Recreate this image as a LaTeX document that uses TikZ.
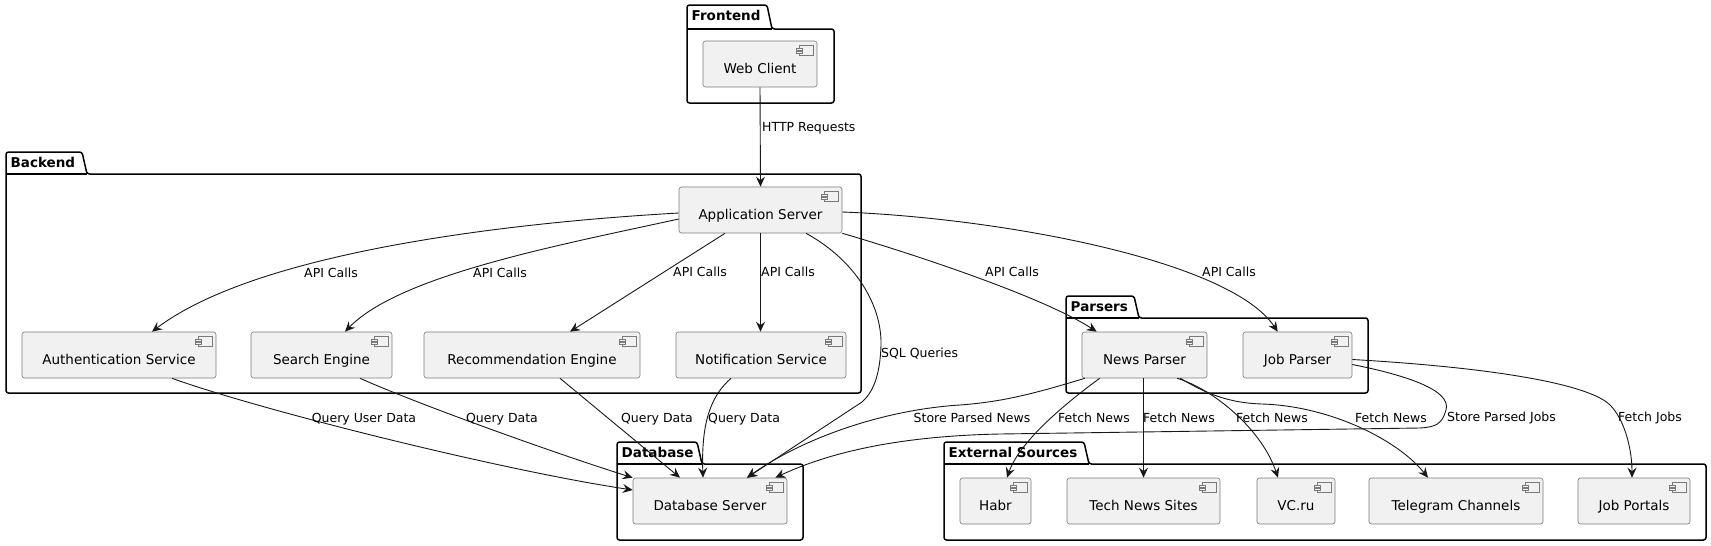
\documentclass[tikz,border=0pt]{standalone}
\usepackage{fontspec}
\setmainfont{DejaVu Sans}
\usetikzlibrary{arrows.meta}
\definecolor{boxfill}{HTML}{F1F1F1}
\definecolor{linec}{HTML}{181818}
\definecolor{boxline}{HTML}{7A7A7A}
\tikzset{
 comp/.style={draw=boxline, line width=0.6pt, fill=boxfill, rounded corners=2.5pt, inner sep=0pt,
   text height=32.5pt, text depth=13.5pt, minimum height=46pt, font=\fontsize{13.5}{16}\selectfont},
 pkgline/.style={draw=black, line width=1.5pt, rounded corners=2.5pt},
 pkgtitle/.style={font=\bfseries\fontsize{13.5}{16}\selectfont, anchor=base west, inner sep=0pt},
 lbl/.style={font=\fontsize{12.5}{15}\selectfont, inner sep=0pt},
 conn/.style={draw=linec, line width=0.9pt, -{Stealth[length=10pt,width=9pt,inset=3.5pt]}},
 icon/.style={draw=boxline, line width=0.6pt, fill=boxfill}
}
\newcommand\pkgdraw[8]{% id, title, left, tabtop, bodytop, right, bottom, tabright
  \draw[pkgline] (#3,#5) -- (#3,#4) -- (#8,#4) -- (#8+5,#5) -- (#6,#5) -- (#6,#7) -- (#3,#7) -- cycle;
  \draw[pkgline] (#3,#5) -- (#8+5,#5);
  \node[pkgtitle] (#1) at (#3+4.5,#4+15.5) {#2};
}
\begin{document}
\begin{tikzpicture}[x=1pt,y=-1pt]
\useasboundingbox (0,0) rectangle (1711,546);
% packages
\pkgdraw{pfront}{Frontend}{687}{5}{29}{834}{103}{767}
\pkgdraw{pback}{Backend}{6}{152}{174}{861}{393}{82}
\pkgdraw{ppars}{Parsers}{1066}{296}{318}{1368}{393}{1134}
\pkgdraw{pdb}{Database}{617}{442}{464}{803}{540}{697}
\pkgdraw{pext}{External Sources}{944}{442}{464}{1706}{540}{1084}
% components
\node[comp, minimum width=114pt] (web) at (760,64) {Web Client\hspace{10pt}};
\node[comp, minimum width=163pt] (app) at (760.5,210) {Application Server\hspace{10pt}};
\node[comp, minimum width=194pt] (auth) at (119,355) {Authentication Service\hspace{10pt}};
\node[comp, minimum width=141pt] (search) at (321.5,355) {Search Engine\hspace{10pt}};
\node[comp, minimum width=216pt] (rec) at (532,355) {Recommendation Engine\hspace{10pt}};
\node[comp, minimum width=170pt] (notif) at (761,355) {Notification Service\hspace{10pt}};
\node[comp, minimum width=125pt] (news) at (1144.5,355) {News Parser\hspace{10pt}};
\node[comp, minimum width=109pt] (job) at (1297.5,355) {Job Parser\hspace{10pt}};
\node[comp, minimum width=154pt] (db) at (710,501) {Database Server\hspace{10pt}};
\node[comp, minimum width=71pt] (habr) at (995.5,501) {Habr\hspace{10pt}};
\node[comp, minimum width=153pt] (tech) at (1143.5,501) {Tech News Sites\hspace{10pt}};
\node[comp, minimum width=78pt] (vc) at (1296,501) {VC.ru\hspace{10pt}};
\node[comp, minimum width=174pt] (tele) at (1456,501) {Telegram Channels\hspace{10pt}};
\node[comp, minimum width=112pt] (jobp) at (1634,501) {Job Portals\hspace{10pt}};
\foreach \n in {web,app,auth,search,rec,notif,news,job,db,habr,tech,vc,tele,jobp}{
  \draw[icon] ([xshift=-18pt,yshift=-5pt]\n.north east) rectangle ([xshift=-4pt,yshift=-15pt]\n.north east);
  \draw[icon] ([xshift=-21pt,yshift=-7.5pt]\n.north east) rectangle ([xshift=-15pt,yshift=-9.5pt]\n.north east);
  \draw[icon] ([xshift=-21pt,yshift=-10.5pt]\n.north east) rectangle ([xshift=-15pt,yshift=-12.5pt]\n.north east);
}
% connectors
\draw[conn] (web.south) -- (app.north);
\draw[conn] ([yshift=-3pt]app.west) .. controls (520,222) and (260,250) .. ([xshift=33pt]auth.north);
\draw[conn] ([yshift=-9pt]app.west) .. controls (560,245) and (400,275) .. ([xshift=23.5pt]search.north);
\draw[conn] ([xshift=-35.5pt]app.south) -- ([xshift=38pt]rec.north);
\draw[conn] (app.south) -- (app.south |- notif.north);
\draw[conn] ([xshift=45.5pt]app.south) .. controls (855,260) and (882,305) .. (881,345) .. controls (880,378) and (872,393) .. (862,402) -- ([xshift=37pt]db.north);
\draw[conn] (app.south east) .. controls (900,250) and (1040,295) .. ([xshift=15pt]news.north west);
\draw[conn] ([yshift=-2pt]app.east) .. controls (1000,218) and (1230,260) .. ([xshift=35pt]job.north west);
\draw[conn] ([xshift=53pt]auth.south) .. controls (260,410) and (500,470) .. ([yshift=11pt]db.west);
\draw[conn] ([xshift=38.5pt]search.south) .. controls (420,405) and (560,455) .. (db.north west);
\draw[conn] ([xshift=28pt]rec.south) -- ([xshift=-30pt]db.north);
\draw[conn] ([xshift=-30pt]notif.south) .. controls (712,395) and (701,420) .. ([xshift=-7pt]db.north);
\draw[conn] ([xshift=3pt]news.south west) .. controls (1030,395) and (1000,402) .. (960,405) .. controls (880,410) and (800,440) .. ([xshift=37pt]db.north);
\draw[conn] ([xshift=18pt]news.south west) .. controls (1070,400) and (1020,440) .. ([xshift=11.5pt]habr.north);
\draw[conn] (tech.north |- news.south) -- (tech.north);
\draw[conn] ([xshift=-30pt]news.south east) .. controls (1215,390) and (1262,430) .. ([xshift=-18pt]vc.north);
\draw[conn] ([xshift=-27pt]news.south east) .. controls (1205,393) and (1228,403) .. (1262,404) .. controls (1330,406) and (1398,440) .. ([xshift=-28pt]tele.north);
\draw[conn] ([yshift=-9.5pt]job.east) .. controls (1405,375) and (1452,390) .. (1446,410) .. controls (1442,424) and (1436,427) .. (1420,428) -- (1000,434) .. controls (900,436) and (830,452) .. ([xshift=-12pt]db.north east);
\draw[conn] ([yshift=-4.5pt]job.east) .. controls (1500,368) and (1590,385) .. (1610,405) .. controls (1625,420) and (1632,450) .. ([xshift=-2pt]jobp.north);
% labels
\node[lbl, anchor=west] (l1) at (762,128) {HTTP Requests};
\node[lbl] (l2) at (331,273) {API Calls};
\node[lbl] (l3) at (500,273) {API Calls};
\node[lbl] (l4) at (700,272) {API Calls};
\node[lbl, anchor=west] (l5) at (761,272) {API Calls};
\node[lbl, anchor=west] (l6) at (881,354) {SQL Queries};
\node[lbl] (l7) at (1012,272) {API Calls};
\node[lbl] (l8) at (1229,272) {API Calls};
\node[lbl] (l9) at (364,419) {Query User Data};
\node[lbl] (l10) at (502,419) {Query Data};
\node[lbl] (l11) at (657,419) {Query Data};
\node[lbl, anchor=west] (l12) at (708,419) {Query Data};
\node[lbl] (l13) at (972,418) {Store Parsed News};
\node[lbl] (l14) at (1094,418) {Fetch News};
\node[lbl, anchor=west] (l15) at (1143,418) {Fetch News};
\node[lbl] (l16) at (1272,418) {Fetch News};
\node[lbl] (l17) at (1391,418) {Fetch News};
\node[lbl, anchor=west] (l18) at (1447,418) {Store Parsed Jobs};
\node[lbl, anchor=west] (l19) at (1618,418) {Fetch Jobs};
\end{tikzpicture}
\end{document}
